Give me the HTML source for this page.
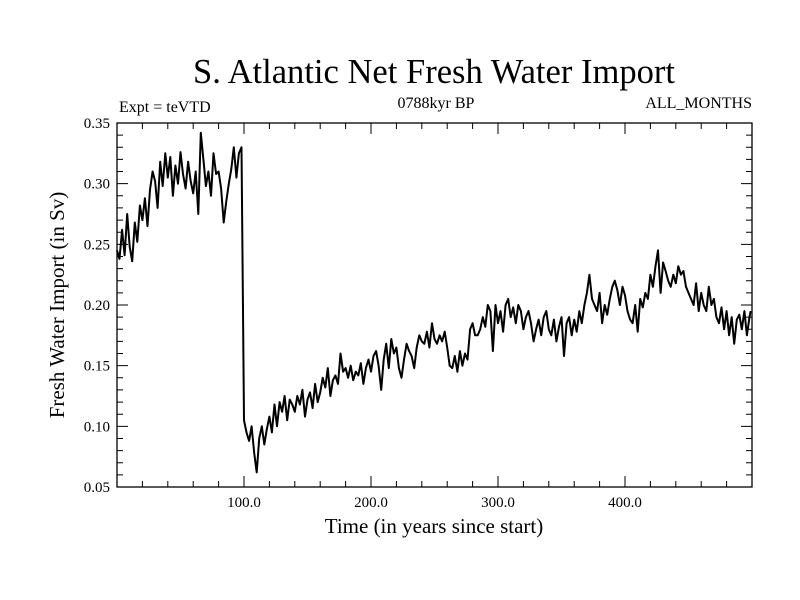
<!DOCTYPE html>
<html><head><meta charset="utf-8"><style>
body{margin:0;background:#fff}
svg{display:block;font-family:"Liberation Serif",serif}
</style></head><body>
<svg id="c" width="800" height="600">
<text x="434" y="83" font-size="35" text-anchor="middle" textLength="482" lengthAdjust="spacingAndGlyphs">S. Atlantic Net Fresh Water Import</text>
<text x="119" y="112" font-size="16">Expt = teVTD</text>
<text x="436" y="108" font-size="16" text-anchor="middle">0788kyr BP</text>
<text x="752" y="108" font-size="16" text-anchor="end">ALL_MONTHS</text>
<text x="434" y="533" font-size="21" text-anchor="middle">Time (in years since start)</text>
<text transform="translate(64,305) rotate(-90)" font-size="21" text-anchor="middle">Fresh Water Import (in Sv)</text>
<g id="axes"></g>
<g id="plot"></g>
</svg>
<script>
const xTickLabels=["100.0","200.0","300.0","400.0"];
const xTickValues=[100,200,300,400];
const yTickValues=[0.05,0.10,0.15,0.20,0.25,0.30,0.35];
const yTickLabels=["0.05","0.10","0.15","0.20","0.25","0.30","0.35"];
const years=[];for(let i=0;i<250;i++)years.push(i*2);years.push(499);
const values=[
0.245,0.238,0.262,0.241,0.275,0.248,0.236,0.268,0.252,0.282,
0.27,0.288,0.265,0.295,0.31,0.302,0.28,0.318,0.298,0.325,
0.305,0.322,0.29,0.315,0.3,0.326,0.308,0.296,0.318,0.302,
0.292,0.31,0.275,0.342,0.32,0.298,0.31,0.29,0.325,0.308,
0.31,0.296,0.268,0.285,0.3,0.312,0.33,0.305,0.325,0.33,
0.105,0.095,0.088,0.1,0.078,0.062,0.09,0.1,0.085,0.098,
0.108,0.095,0.118,0.1,0.12,0.112,0.125,0.105,0.122,0.118,
0.112,0.125,0.118,0.13,0.108,0.122,0.128,0.115,0.135,0.12,
0.128,0.14,0.132,0.148,0.125,0.138,0.142,0.135,0.16,0.145,
0.148,0.14,0.15,0.138,0.145,0.142,0.152,0.135,0.148,0.155,
0.145,0.158,0.162,0.15,0.13,0.155,0.168,0.148,0.172,0.16,
0.165,0.148,0.14,0.155,0.168,0.162,0.158,0.148,0.165,0.175,
0.17,0.168,0.178,0.165,0.185,0.172,0.168,0.175,0.17,0.178,
0.165,0.15,0.148,0.158,0.145,0.162,0.15,0.16,0.155,0.18,
0.185,0.175,0.175,0.18,0.19,0.182,0.2,0.195,0.162,0.2,
0.185,0.195,0.178,0.2,0.205,0.19,0.198,0.185,0.2,0.195,
0.18,0.19,0.195,0.185,0.17,0.18,0.188,0.175,0.19,0.195,
0.18,0.175,0.188,0.17,0.182,0.19,0.158,0.185,0.19,0.175,
0.188,0.178,0.195,0.185,0.2,0.21,0.225,0.205,0.2,0.195,
0.21,0.185,0.2,0.192,0.205,0.215,0.22,0.212,0.2,0.215,
0.208,0.195,0.188,0.185,0.2,0.178,0.205,0.198,0.21,0.205,
0.225,0.215,0.232,0.245,0.21,0.235,0.228,0.22,0.215,0.225,
0.218,0.232,0.225,0.228,0.215,0.21,0.205,0.2,0.218,0.195,
0.21,0.2,0.195,0.215,0.2,0.205,0.19,0.185,0.198,0.18,
0.195,0.175,0.19,0.168,0.188,0.192,0.18,0.195,0.175,0.19,
0.195];
const L=117,R=752,T=123,B=487,X0=0,X1=500,Y0=0.05,Y1=0.35;
const sx=v=>L+(v-X0)/(X1-X0)*(R-L);
const sy=v=>B-(v-Y0)/(Y1-Y0)*(B-T);
const NS="http://www.w3.org/2000/svg";
const axes=document.getElementById('axes'),plot=document.getElementById('plot');
function mk(tag,at,parent){const e=document.createElementNS(NS,tag);for(const k in at)e.setAttribute(k,at[k]);parent.appendChild(e);return e;}
const fr=mk('rect',{x:L,y:T,width:R-L,height:B-T,fill:'none',stroke:'#000','stroke-width':1.3},axes);


let d='';
for(let v=20;v<500;v+=20){const x=sx(v),len=(v%100===0)?11:6;d+=`M${x},${B}v${-len}M${x},${T}v${len}`;}
for(let i=0;i<=30;i++){const v=Y0+i*0.01,y=sy(v),len=(i%5===0)?11:6;d+=`M${L},${y}h${len}M${R},${y}h${-len}`;}
const tk=mk('path',{d:d,stroke:'#000','stroke-width':1,fill:'none'},axes);


xTickValues.forEach((v,i)=>{const t=mk('text',{x:sx(v),y:B+20,'font-size':15,'text-anchor':'middle'},axes);t.textContent=xTickLabels[i];

});
yTickValues.forEach((v,i)=>{const t=mk('text',{x:L-7,y:sy(v)+5,'font-size':15,'text-anchor':'end'},axes);t.textContent=yTickLabels[i];

});
let p='';values.forEach((v,i)=>{p+=(i?'L':'M')+sx(years[i]).toFixed(1)+','+sy(v).toFixed(1);});
const ln=mk('path',{d:p,stroke:'#000','stroke-width':2,fill:'none','stroke-linejoin':'round'},plot);


</script>
</body></html>
